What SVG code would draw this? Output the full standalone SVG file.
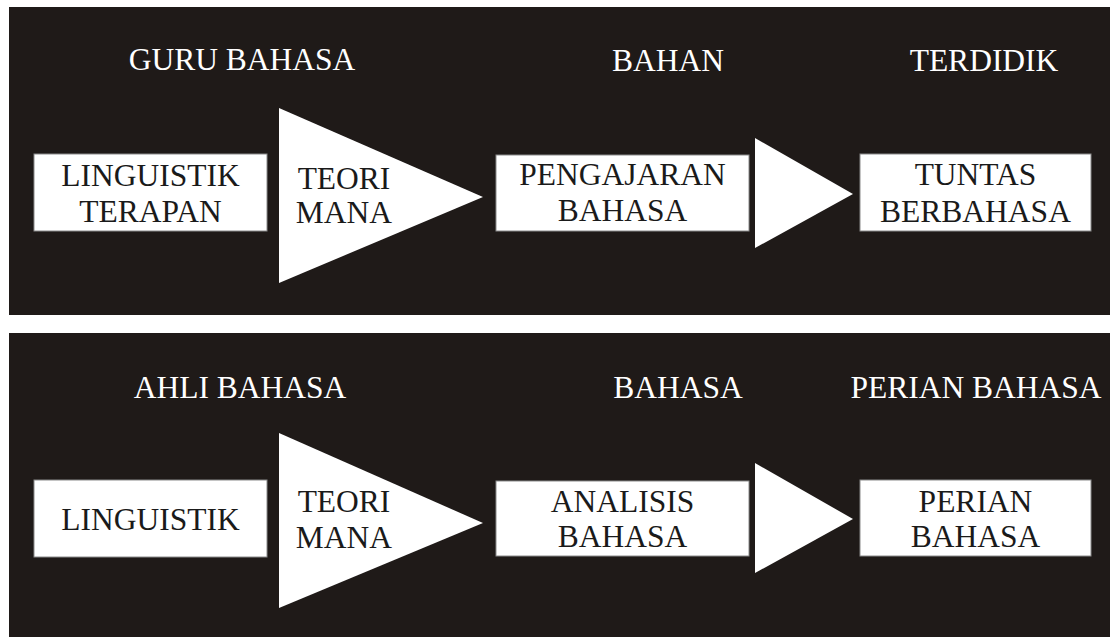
<svg xmlns="http://www.w3.org/2000/svg" width="1111" height="637" viewBox="0 0 1111 637">
<style>
.panel{fill:#1f1a18}
.box{fill:#ffffff;stroke:#8a8a8a;stroke-width:1}
.tri{fill:#ffffff}
.t{font-family:'Liberation Serif','Times New Roman',serif;font-size:31.5px;text-anchor:middle}
.dk{fill:#1a1a1a}
.lt{fill:#ffffff}
</style>
<rect width="1111" height="637" fill="#ffffff"/>
<rect class="panel" x="9" y="7" width="1101" height="308"/>
<rect class="panel" x="9" y="333" width="1101" height="304"/>
<g id="connectors">
<polygon id="arrow1" class="tri" points="279,108 483,197 279,283"/>
<polygon id="arrow2" class="tri" points="755,138 853,194 755,248"/>
<polygon id="arrow3" class="tri" points="279,433 483,523 279,608"/>
<polygon id="arrow4" class="tri" points="755,463 853,519 755,573"/>
</g>
<g id="label-guru"><text class="t lt" x="242" y="70">GURU BAHASA</text></g>
<g id="label-bahan"><text class="t lt" x="668" y="71">BAHAN</text></g>
<g id="label-terdidik"><text class="t lt" x="984" y="71">TERDIDIK</text></g>
<g id="node-linguistik-terapan">
<rect class="box" x="34" y="154" width="233" height="77"/>
<text class="t dk" x="150.5" y="186">LINGUISTIK</text>
<text class="t dk" x="150.5" y="222">TERAPAN</text>
</g>
<g id="node-teori1">
<text class="t dk" x="344" y="189">TEORI</text>
<text class="t dk" x="344" y="223">MANA</text>
</g>
<g id="node-pengajaran">
<rect class="box" x="496" y="155" width="253" height="76"/>
<text class="t dk" x="622.5" y="185">PENGAJARAN</text>
<text class="t dk" x="622.5" y="221">BAHASA</text>
</g>
<g id="node-tuntas">
<rect class="box" x="860" y="154" width="231" height="77"/>
<text class="t dk" x="975.5" y="185">TUNTAS</text>
<text class="t dk" x="975.5" y="222">BERBAHASA</text>
</g>
<g id="label-ahli"><text class="t lt" x="240" y="398">AHLI BAHASA</text></g>
<g id="label-bahasa"><text class="t lt" x="678" y="398">BAHASA</text></g>
<g id="label-perian"><text class="t lt" x="976" y="398">PERIAN BAHASA</text></g>
<g id="node-linguistik">
<rect class="box" x="34" y="480" width="233" height="77"/>
<text class="t dk" x="150.5" y="530">LINGUISTIK</text>
</g>
<g id="node-teori2">
<text class="t dk" x="344" y="512">TEORI</text>
<text class="t dk" x="344" y="548">MANA</text>
</g>
<g id="node-analisis">
<rect class="box" x="496" y="481" width="253" height="75"/>
<text class="t dk" x="622.5" y="512">ANALISIS</text>
<text class="t dk" x="622.5" y="547">BAHASA</text>
</g>
<g id="node-perian">
<rect class="box" x="860" y="480" width="231" height="76"/>
<text class="t dk" x="975.5" y="512">PERIAN</text>
<text class="t dk" x="975.5" y="547">BAHASA</text>
</g>
</svg>
